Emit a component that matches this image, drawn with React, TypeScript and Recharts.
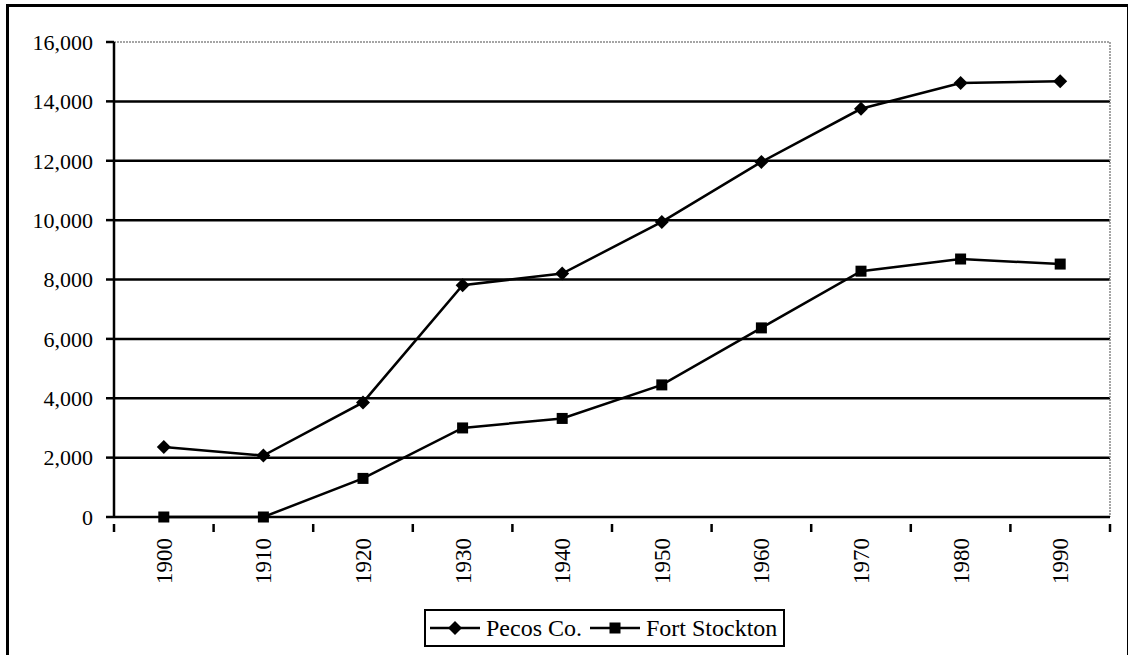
import React from "react"
import { LineChart, Line, XAxis, YAxis, CartesianGrid, Legend, ReferenceLine } from "recharts"

const years = ["1900", "1910", "1920", "1930", "1940", "1950", "1960", "1970", "1980", "1990"]
const pecosCo = [2360, 2070, 3860, 7810, 8200, 9940, 11960, 13750, 14620, 14680]
const fortStockton = [0, 0, 1300, 3000, 3320, 4450, 6370, 8280, 8690, 8520]
const yTicks = [0, 2000, 4000, 6000, 8000, 10000, 12000, 14000, 16000]
const gridValues = [2000, 4000, 6000, 8000, 10000, 12000, 14000]

const seriesNames = { pecos: "Pecos Co.", fort: "Fort Stockton" }

const data = years.map((year, i) => ({
  year,
  pecos: pecosCo[i],
  fort: fortStockton[i],
}))

const FONT = "Liberation Serif, Times New Roman, serif"

// plot box
const PLOT_LEFT = 114
const PLOT_RIGHT = 1110
const BAND = (PLOT_RIGHT - PLOT_LEFT) / years.length

const Diamond = (props: any) => {
  const { cx, cy } = props
  if (cx == null || cy == null) return null
  const r = 7
  return <path d={`M${cx},${cy - r} L${cx + r},${cy} L${cx},${cy + r} L${cx - r},${cy} Z`} fill="#000" />
}

const Square = (props: any) => {
  const { cx, cy } = props
  if (cx == null || cy == null) return null
  const r = 5.5
  return <rect x={cx - r} y={cy - r} width={r * 2} height={r * 2} fill="#000" />
}

// year label plus tick marks between categories (Excel style)
const YearTick = (props: any) => {
  const { x, y, payload, index } = props
  const last = index === years.length - 1
  return (
    <g>
      <line x1={x - BAND / 2} y1={y - 1} x2={x - BAND / 2} y2={y + 7} stroke="#000" strokeWidth={2.5} />
      {last && <line x1={x + BAND / 2} y1={y - 1} x2={x + BAND / 2} y2={y + 7} stroke="#000" strokeWidth={2.5} />}
      <text
        transform={`translate(${x},${y + 13}) rotate(-90)`}
        textAnchor="end"
        dy="0.35em"
        fontSize={23}
        fontFamily={FONT}
        fill="#000"
      >
        {payload.value}
      </text>
    </g>
  )
}

const LegendBox = () => {
  const item = (name: string, marker: React.ReactNode) => (
    <div style={{ display: "flex", alignItems: "center" }}>
      <svg width={54} height={20}>
        <line x1={2} y1={10} x2={52} y2={10} stroke="#000" strokeWidth={2.5} />
        {marker}
      </svg>
      <span style={{ marginLeft: 4, marginRight: 6 }}>{name}</span>
    </div>
  )
  return (
    <div
      style={{
        display: "flex",
        alignItems: "center",
        border: "2px solid #000",
        height: 34,
        padding: "0 0 0 2px",
        fontFamily: FONT,
        fontSize: 24,
        color: "#000",
        whiteSpace: "nowrap",
      }}
    >
      {item(seriesNames.pecos, <Diamond cx={27} cy={10} />)}
      {item(seriesNames.fort, <Square cx={27} cy={10} />)}
    </div>
  )
}

export default function App() {
  return (
    <div style={{ position: "absolute", left: 0, top: 0, width: 1128, height: 655, background: "#fff" }}>
      <div
        style={{
          position: "absolute",
          left: 6,
          top: 4,
          width: 1118,
          height: 649,
          borderLeft: "3px solid #000",
          borderTop: "3px solid #000",
          borderRight: "2px solid #000",
          borderBottom: "1px solid #999",
        }}
      />
      <LineChart
        width={1128}
        height={655}
        data={data}
        margin={{ top: 42, right: 1128 - PLOT_RIGHT, left: 0, bottom: 137 }}
        style={{ position: "absolute", left: 0, top: 0 }}
      >
        <CartesianGrid
          vertical={false}
          horizontalValues={gridValues}
          stroke="#000"
          strokeWidth={2.5}
        />
        <CartesianGrid
          horizontal={false}
          verticalPoints={[PLOT_RIGHT]}
          stroke="#888"
          strokeWidth={1.5}
          strokeDasharray="2 1"
        />
        <XAxis
          dataKey="year"
          height={1}
          interval={0}
          padding={{ left: BAND / 2, right: BAND / 2 }}
          tick={<YearTick />}
          tickLine={false}
          axisLine={{ stroke: "#000", strokeWidth: 2.5 }}
        />
        <YAxis
          width={PLOT_LEFT}
          domain={[0, 16000]}
          ticks={yTicks}
          interval={0}
          tickSize={8}
          tickMargin={13}
          tickFormatter={(v: number) => v.toLocaleString("en-US")}
          tick={{ fontSize: 22, fontFamily: FONT, fill: "#000" }}
          tickLine={{ stroke: "#000", strokeWidth: 2.5 }}
          axisLine={{ stroke: "#000", strokeWidth: 2.5 }}
        />
        <ReferenceLine y={16000} stroke="#888" strokeWidth={1.5} strokeDasharray="2 1" />
        <Line
          dataKey="pecos"
          name={seriesNames.pecos}
          stroke="#000"
          strokeWidth={2.5}
          dot={<Diamond />}
          activeDot={false}
          isAnimationActive={false}
        />
        <Line
          dataKey="fort"
          name={seriesNames.fort}
          stroke="#000"
          strokeWidth={2.5}
          dot={<Square />}
          activeDot={false}
          isAnimationActive={false}
        />
        <Legend
          verticalAlign="middle"
          layout="horizontal"
          content={<LegendBox />}
          wrapperStyle={{ position: "absolute", left: 424, top: 609, width: "auto" }}
        />
      </LineChart>
    </div>
  )
}
